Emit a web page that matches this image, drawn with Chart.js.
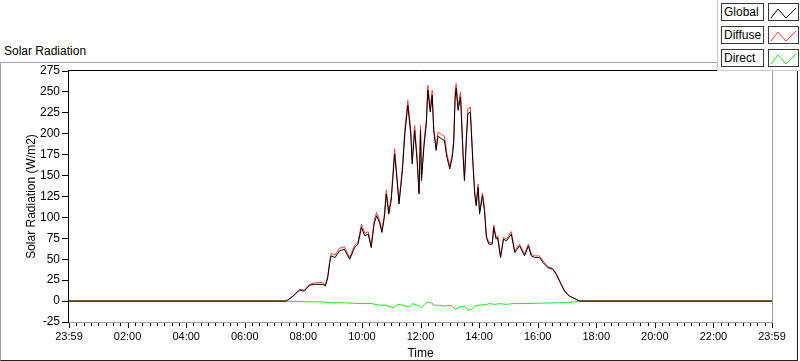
<!DOCTYPE html>
<html>
<head>
<meta charset="utf-8">
<script src="https://cdn.jsdelivr.net/npm/chart.js@4"></script>
<style>
html, body { margin: 0; padding: 0; background: #fff; }
body { width: 800px; height: 361px; position: relative; overflow: hidden; font-family: "Liberation Sans", Arial, sans-serif; color: #000; }
#frame { position: absolute; left: 0; top: 62px; width: 796px; height: 297px; border-top: 1px solid #a0a0a0; border-left: 1px solid #a0a0a0; border-right: 1px solid #222; border-bottom: 1px solid #222; }
#title { position: absolute; left: 4px; top: 44px; font-size: 12px; line-height: 14px; }
#chart { position: absolute; left: 0; top: 0; }
#legend { position: absolute; left: 717px; top: 0; width: 83px; height: 70px; background: #fff; border-left: 1px solid #c8c8c8; border-bottom: 1px solid #c8c8c8; }
.lbl, .ico { position: absolute; box-sizing: border-box; height: 18px; border: 1px solid #3a3a3a; background: #fff; }
.lbl { left: 3px; width: 43px; font-size: 12px; line-height: 16px; padding-left: 2px; }
.ico { left: 50px; width: 31px; }
.ico svg { position: absolute; left: 0; top: 0; }
</style>
</head>
<body>
<div id="frame"></div>
<div id="title">Solar Radiation</div>
<canvas id="chart" width="800" height="361"></canvas>
<div id="legend"></div>
<script>
// minutes since 23:59 (start of day) and W/m2
const times = [0, 445, 459, 472, 482, 493, 505, 520, 525, 530, 534, 537, 545, 554, 564, 575, 585, 592, 599, 606,
    613, 619, 625, 630, 636, 641, 646, 650, 655, 660, 667, 672, 676, 683, 688, 694, 700, 703, 708, 713,
    717, 720, 722, 727, 732, 735, 740, 744, 747, 752, 756, 763, 769, 774, 780, 785, 788, 791, 793, 797,
    802, 805, 807, 810, 814, 817, 822, 824, 827, 831, 834, 838, 841, 847, 851, 855, 860, 867, 870, 875,
    878, 884, 890, 896, 906, 913, 923, 933, 941, 947, 954, 964, 971, 981, 991, 998, 1008, 1015, 1025, 1039,
    1046, 1440];

const globalRad = [0, 0, 6, 13, 12, 19, 20, 20, 18, 28, 46, 54, 52, 60, 62, 50, 64, 68, 88, 78,
    80, 64, 92, 102, 94, 82, 100, 128, 104, 120, 176, 144, 116, 156, 200, 234, 200, 164, 204, 168,
    128, 204, 144, 184, 212, 252, 226, 246, 204, 180, 197, 194, 192, 172, 158, 172, 188, 244, 254, 228,
    244, 204, 176, 144, 192, 224, 226, 204, 168, 128, 114, 136, 104, 126, 108, 76, 68, 68, 88, 74,
    76, 52, 74, 72, 80, 58, 66, 54, 66, 54, 52, 52, 46, 40, 38, 32, 20, 12, 6, 2,
    0, 0];

const diffuseRad = [0, 0, 6, 14, 13, 20, 22, 22, 19, 30, 48, 57, 55, 63, 65, 52, 67, 71, 92, 81,
    83, 66, 96, 106, 97, 85, 104, 133, 107, 124, 182, 148, 119, 161, 206, 240, 205, 168, 210, 172,
    131, 210, 147, 189, 218, 258, 231, 252, 208, 184, 202, 199, 197, 176, 161, 176, 193, 250, 260, 233,
    250, 209, 180, 147, 197, 230, 232, 209, 172, 131, 117, 140, 107, 129, 111, 78, 70, 70, 91, 76,
    78, 54, 76, 74, 83, 60, 68, 56, 68, 56, 54, 54, 48, 41, 39, 33, 21, 12, 6, 2,
    0, 0];

const directTimes = [0, 445, 470, 500, 520, 540, 560, 580, 600, 620, 636, 650, 664, 674, 684, 698, 704, 718, 722, 728,
    735, 742, 749, 759, 769, 783, 792, 800, 810, 817, 824, 831, 841, 855, 862, 872, 882, 896, 909, 930,
    964, 1005, 1036, 1046, 1440];

const directRad = [0, 0, -0.5, -1, -1, -2, -2, -2.5, -3, -3, -5, -5, -8, -4, -5, -7, -3, -6, -8, -4,
    -1, -2, -5, -5, -6, -5, -10, -7, -6, -11, -10, -6, -5, -4, -3, -4, -3, -4, -3, -3,
    -2.5, -2, -1, 0, 0];

const seriesNames = ['Global', 'Diffuse', 'Direct'];
const seriesColors = ['#000000', '#ff3c3c', '#1ee61e'];

const yTicks = { min: -25, max: 275, step: 25 };
const xTicks = { min: 0, max: 1440, major: 120, minor: 15 };

function fmtTime(v) {
    if (v === 0 || v === 1440) return '23:59';
    const h = Math.floor(v / 60);
    return (h < 10 ? '0' : '') + h + ':00';
}

// legend boxes in the top right corner
const legend = document.getElementById('legend');
seriesNames.forEach((name, i) => {
    const top = 3 + i * 23;
    const lbl = document.createElement('div');
    lbl.className = 'lbl';
    lbl.style.top = top + 'px';
    lbl.textContent = name;
    const ico = document.createElement('div');
    ico.className = 'ico';
    ico.style.top = top + 'px';
    ico.innerHTML = '<svg width="31" height="18"><polyline points="2,14 9,5 17,14 27,4" fill="none" stroke="' +
        seriesColors[i] + '" stroke-width="1"/></svg>';
    legend.appendChild(lbl);
    legend.appendChild(ico);
});

const framePlugin = {
    id: 'frame',
    beforeDatasetsDraw(chart) {
        const { ctx, chartArea: a } = chart;
        const xs = chart.scales.x;
        ctx.save();
        ctx.lineWidth = 1;
        ctx.strokeStyle = '#a0a0a0';
        ctx.beginPath();
        ctx.moveTo(a.right + 0.5, a.top);
        ctx.lineTo(a.right + 0.5, a.bottom + 0.5);
        ctx.lineTo(a.left - 1, a.bottom + 0.5);
        ctx.stroke();
        ctx.strokeStyle = '#000';
        ctx.beginPath();
        ctx.moveTo(a.left - 0.5, a.bottom + 1);
        ctx.lineTo(a.left - 0.5, a.top - 0.5);
        ctx.lineTo(a.right + 1, a.top - 0.5);
        ctx.stroke();
        // time axis ticks, long every 2 h, short every 15 min
        ctx.beginPath();
        for (let m = xTicks.min; m <= xTicks.max; m += xTicks.minor) {
            const px = Math.round(xs.getPixelForValue(m)) + 0.5;
            const len = m % xTicks.major === 0 ? 5 : 3;
            ctx.moveTo(px, a.bottom + 1);
            ctx.lineTo(px, a.bottom + 1 + len);
        }
        ctx.stroke();
        ctx.restore();
    }
};

const toPoints = (xs, ys) => xs.map((t, i) => ({ x: t, y: ys[i] }));

new Chart(document.getElementById('chart'), {
    type: 'line',
    data: {
        datasets: [
            { label: seriesNames[0], data: toPoints(times, globalRad), borderColor: seriesColors[0] },
            { label: seriesNames[1], data: toPoints(times, diffuseRad), borderColor: seriesColors[1] },
            { label: seriesNames[2], data: toPoints(directTimes, directRad), borderColor: seriesColors[2] }
        ]
    },
    options: {
        responsive: false,
        animation: false,
        devicePixelRatio: 1,
        layout: { padding: { top: 71, right: 28, left: 0, bottom: 0 } },
        elements: {
            line: { borderWidth: 1, tension: 0, fill: false },
            point: { radius: 0 }
        },
        plugins: { legend: { display: false }, tooltip: { enabled: false } },
        scales: {
            x: {
                type: 'linear',
                min: xTicks.min,
                max: xTicks.max,
                afterFit: s => { s.height = 39; },
                border: { display: false },
                grid: { display: false, drawTicks: false },
                ticks: {
                    stepSize: xTicks.major,
                    autoSkip: false,
                    maxRotation: 0,
                    padding: 8,
                    color: '#000',
                    font: { family: 'Liberation Sans', size: 11 },
                    callback: v => fmtTime(v)
                },
                title: {
                    display: true,
                    text: 'Time',
                    color: '#000',
                    font: { family: 'Liberation Sans', size: 12 },
                    padding: { top: 0, bottom: 0 }
                }
            },
            y: {
                min: yTicks.min,
                max: yTicks.max,
                afterFit: s => { s.width = 69; },
                border: { display: false },
                grid: { drawOnChartArea: false, drawTicks: true, tickLength: 7, color: '#000' },
                ticks: {
                    stepSize: yTicks.step,
                    padding: 2,
                    color: '#000',
                    font: { family: 'Liberation Sans', size: 12 }
                },
                title: {
                    display: true,
                    text: 'Solar Radiation (W/m2)',
                    color: '#000',
                    font: { family: 'Liberation Sans', size: 12 },
                    padding: { top: 24, bottom: 0 }
                }
            }
        }
    },
    plugins: [framePlugin]
});
</script>
</body>
</html>
